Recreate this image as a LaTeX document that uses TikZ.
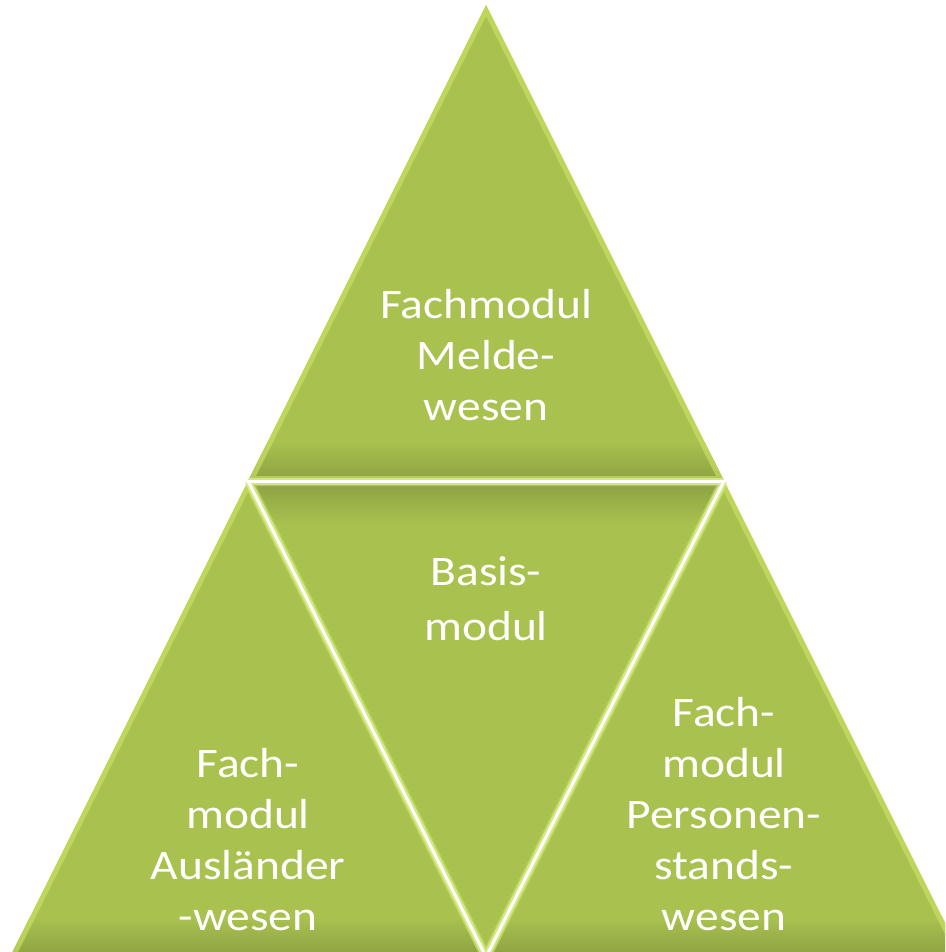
\documentclass[tikz,border=0pt]{standalone}
\usepackage{fontspec}
\setmainfont{Carlito}[FakeStretch=1.13]
\usetikzlibrary{calc}
\definecolor{gbase}{RGB}{169,194,79}
\definecolor{glight}{RGB}{205,230,100}
\definecolor{gdark}{RGB}{140,160,66}
\tikzset{
  tri/.style={fill=gbase},
  sep/.style={draw=white, line width=3pt, line cap=round},
  sepglow/.style={draw=glight!70!white, line width=7pt, opacity=0.8},
  lbl/.style={text=white, align=center, anchor=base, inner sep=0pt, font=\fontsize{42}{51}\selectfont},
}
\begin{document}
\begin{tikzpicture}[x=1pt,y=-1pt]
\useasboundingbox (0,0) rectangle (945,952);
\clip (0,0) rectangle (945,952);
\coordinate (A) at (486,5);
\coordinate (ML) at (248,481);
\coordinate (MR) at (724,481);
\coordinate (BL) at (10,957);
\coordinate (MB) at (486,957);
\coordinate (BR) at (962,957);
% upright triangles
\foreach \p/\q/\r/\bot in {A/ML/MR/481, BL/ML/MB/957, MB/MR/BR/957}{
  \fill[tri] (\p) -- (\q) -- (\r) -- cycle;
  \begin{scope}
    \clip (\p) -- (\q) -- (\r) -- cycle;
    \shade[top color=gbase, bottom color=gdark] (0,\bot-40) rectangle (945,\bot);
    \draw[glight, line width=10pt, opacity=0.6] (\p) -- (\q) -- (\r) -- cycle;
  \end{scope}
}
% inverted middle triangle
\fill[tri] (ML) -- (MR) -- (MB) -- cycle;
\begin{scope}
  \clip (ML) -- (MR) -- (MB) -- cycle;
  \shade[top color=gdark, bottom color=gbase] (0,481) rectangle (945,525);
  \draw[glight, line width=10pt, opacity=0.5] (ML) -- (MR) -- (MB) -- cycle;
\end{scope}
% separators
\draw[sepglow] (ML) -- (MR);
\draw[sepglow] (ML) -- (MB) -- (MR);
\draw[sep] (ML) -- (MR);
\draw[sep] (ML) -- (MB) -- (MR);
% labels (anchored at the baseline of the last line)
\node[lbl] (melde) at (486,420) {Fachmodul\\Melde-\\wesen};
\node[lbl, font=\fontsize{42}{55}\selectfont] (basis) at (486,640) {Basis-\\modul};
\node[lbl] (ausl) at (248,930) {Fach-\\modul\\Ausländer\\-wesen};
\node[lbl] (pers) at (724,930) {Fach-\\modul\\Personen-\\stands-\\wesen};
\end{tikzpicture}
\end{document}
